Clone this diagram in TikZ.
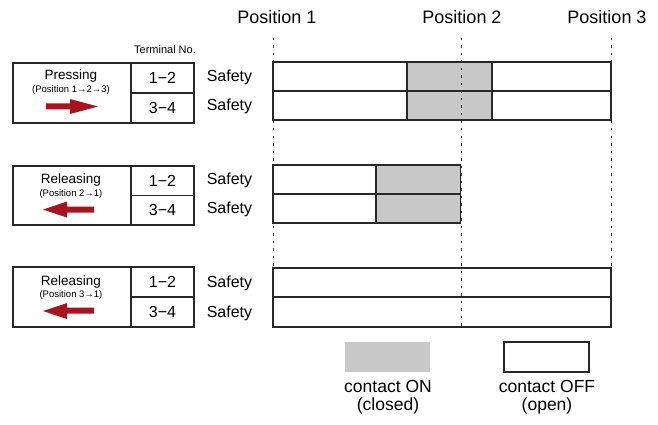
\documentclass[tikz,border=0pt]{standalone}
\usepackage{fontspec}
\setmainfont{Liberation Sans}
\definecolor{linec}{RGB}{40,40,40}
\definecolor{ongray}{RGB}{200,200,200}
\definecolor{arrred}{RGB}{170,20,30}
\tikzset{
  cell/.style 2 args={draw=linec,line width=1.2pt,inner sep=0pt,minimum width=#1,minimum height=#2,fill=white},
  oncell/.style 2 args={cell={#1}{#2},fill=ongray},
  posline/.style={draw=linec,line width=1pt,dash pattern=on 2.5pt off 5pt},
  poslab/.style={font=\fontsize{18}{20}\selectfont,anchor=base},
  saf/.style={font=\fontsize{16}{18}\selectfont,anchor=base},
  term/.style={font=\fontsize{16}{18}\selectfont},
  act/.style={font=\fontsize{13.5}{15}\selectfont,anchor=base},
  sub/.style={font=\fontsize{9.5}{11}\selectfont,anchor=base},
  leg/.style={font=\fontsize{17.5}{19}\selectfont,anchor=base},
  arrowfill/.style={fill=arrred}
}
\begin{document}
\begin{tikzpicture}[x=1pt,y=-1pt]
\useasboundingbox[fill=white] (0,0) rectangle (658,425);

% ---------- right-hand timing boxes ----------
% row 1
\node[cell={134pt}{29pt}]   (r1a) at (340,76.5) {};
\node[oncell={85pt}{29pt}]  (r1b) at (449.5,76.5) {};
\node[cell={119pt}{29pt}]   (r1c) at (551.5,76.5) {};
\node[cell={134pt}{29pt}]   (r1d) at (340,105.5) {};
\node[oncell={85pt}{29pt}]  (r1e) at (449.5,105.5) {};
\node[cell={119pt}{29pt}]   (r1f) at (551.5,105.5) {};
% row 2
\node[cell={103pt}{29pt}]   (r2a) at (324.5,179.5) {};
\node[oncell={84pt}{29pt}]  (r2b) at (418.5,179.5) {};
\node[cell={103pt}{29pt}]   (r2c) at (324.5,208.5) {};
\node[oncell={84pt}{29pt}]  (r2d) at (418.5,208.5) {};
% row 3
\node[cell={338pt}{29pt}]   (r3a) at (442,282.5) {};
\node[cell={338pt}{30pt}]   (r3b) at (442,312) {};

% ---------- position lines ----------
\coordinate (p1t) at (273,38);  \coordinate (p1b) at (273,330);
\coordinate (p2t) at (461,38);  \coordinate (p2b) at (461,330);
\coordinate (p3t) at (611,38);  \coordinate (p3b) at (611,330);
\draw[posline] (p1t) -- (p1b);
\draw[posline] (p2t) -- (p2b);
\draw[posline] (p3t) -- (p3b);

\node[poslab] (pos1) at (277,24) {Position 1};
\node[poslab] (pos2) at (462,24) {Position 2};
\node[poslab] (pos3) at (607,24) {Position 3};

% ---------- Safety labels ----------
\node[saf] (s1a) at (229.5,81.5) {Safety};
\node[saf] (s1b) at (229.5,110.5) {Safety};
\node[saf] (s2a) at (229.5,184.5) {Safety};
\node[saf] (s2b) at (229.5,213.5) {Safety};
\node[saf] (s3a) at (229.5,287.5) {Safety};
\node[saf] (s3b) at (229.5,317.5) {Safety};

% ---------- left tables ----------
\node[font=\fontsize{11}{12}\selectfont,anchor=base] (tno) at (165,54) {Terminal No.};

% row 1
\node[cell={118pt}{60pt}] (a1) at (72,93) {};
\node[cell={63pt}{30pt},term] (t1a) at (162.5,78) {1−2};
\node[cell={63pt}{30pt},term] (t1b) at (162.5,108) {3−4};
\node[act] (a1t) at (71,79.5) {Pressing};
\node[sub] (a1s) at (71,93) {(Position 1→2→3)};
\fill[arrowfill] (46,103.5) -- (70,103.5) -- (70,99) -- (98,106.5) -- (70,114) -- (70,109.5) -- (46,109.5) -- cycle;

% row 2
\node[cell={118pt}{59pt}] (a2) at (72,195.5) {};
\node[cell={63pt}{29.5pt},term] (t2a) at (162.5,180.75) {1−2};
\node[cell={63pt}{29.5pt},term] (t2b) at (162.5,210.25) {3−4};
\node[act] (a2t) at (71,183.5) {Releasing};
\node[sub] (a2s) at (71,196.5) {(Position 2→1)};
\fill[arrowfill] (94,206.5) -- (67,206.5) -- (67,201.5) -- (43,209.5) -- (67,217.5) -- (67,212.5) -- (94,212.5) -- cycle;

% row 3
\node[cell={118pt}{60pt}] (a3) at (72,297) {};
\node[cell={63pt}{30pt},term] (t3a) at (162.5,282) {1−2};
\node[cell={63pt}{30pt},term] (t3b) at (162.5,312) {3−4};
\node[act] (a3t) at (71,285.5) {Releasing};
\node[sub] (a3s) at (71,297) {(Position 3→1)};
\fill[arrowfill] (94,307.5) -- (67,307.5) -- (67,303) -- (43,311) -- (67,319) -- (67,313.5) -- (94,313.5) -- cycle;

% ---------- legend ----------
\node[fill=ongray,inner sep=0pt,minimum width=85pt,minimum height=30pt] (lon) at (387.5,357) {};
\node[cell={85pt}{30pt}] (loff) at (546.5,357) {};
\node[leg] (lon1) at (388,392.5) {contact ON};
\node[leg] (lon2) at (388,410.5) {(closed)};
\node[leg] (loff1) at (547,392.5) {contact OFF};
\node[leg] (loff2) at (547,410.5) {(open)};
\end{tikzpicture}
\end{document}
